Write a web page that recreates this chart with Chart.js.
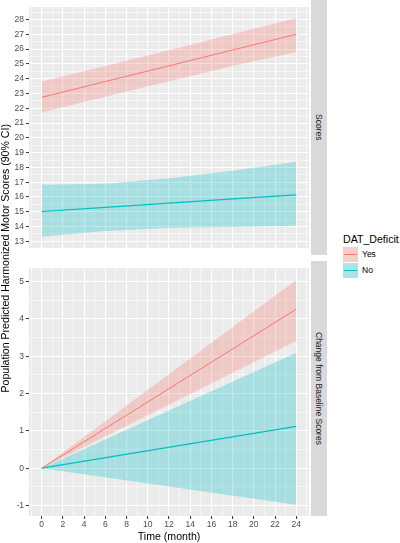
<!DOCTYPE html>
<html>
<head>
<meta charset="utf-8">
<script src="https://cdn.jsdelivr.net/npm/chart.js@4.4.1/dist/chart.umd.min.js"></script>
<style>
body { margin: 0; background: #fff; font-family: "Liberation Sans", Arial, sans-serif; }
#wrap { position: relative; width: 400px; height: 543px; overflow: hidden; }
canvas { position: absolute; left: 0; }
.strip { position: absolute; left: 311px; width: 16px; background: #D9D9D9; color: #1A1A1A; font-size: 8.5px;
         display: flex; align-items: center; justify-content: center; }
.strip span { writing-mode: vertical-rl; white-space: nowrap; }
#ytitle { position: absolute; left: -1px; top: 0; width: 12px; height: 516px; display: flex; align-items: center;
          justify-content: center; font-size: 10.6px; color: #000; }
#ytitle span { writing-mode: vertical-rl; transform: rotate(180deg); white-space: nowrap; }
#legend { position: absolute; left: 343px; top: 232px; }
#legend .title { font-size: 10.6px; color: #000; height: 14px; line-height: 14px; }
#legend .item { position: relative; height: 16px; display: flex; align-items: center; }
#legend .key { position: relative; width: 15px; height: 15px; background: #F2F2F2; margin-right: 4px; }
#legend .key .fill { position: absolute; inset: 0; }
#legend .key .line { position: absolute; left: 1px; right: 1px; top: 7px; height: 1px; }
#legend .lab { font-size: 8.5px; color: #000; }
</style>
</head>
<body>
<div id="wrap">
  <canvas id="scoresChart" width="309" height="255" style="top:0"></canvas>
  <canvas id="changeChart" width="309" height="282" style="top:261px"></canvas>
  <div class="strip" style="top:0;height:255px"><span>Scores</span></div>
  <div class="strip" style="top:261px;height:255px"><span>Change from Baseline Scores</span></div>
  <div id="ytitle"><span>Population Predicted Harmonized Motor Scores (90% CI)</span></div>
  <div id="legend"></div>
</div>
<script>
// Данные: верхняя панель (баллы)
const scoreMonths = [0, 6, 12, 18, 24];
const yesScore   = [22.74, 23.81, 24.87, 25.94, 27.0];
const yesScoreLo = [21.72, 22.78, 23.83, 24.86, 25.80];
const yesScoreHi = [23.81, 24.85, 25.92, 27.00, 28.10];
const noScore    = [15.02, 15.30, 15.59, 15.87, 16.15];
const noScoreLo  = [13.32, 13.70, 13.91, 13.97, 14.06];
const noScoreHi  = [16.83, 16.90, 17.27, 17.77, 18.38];

// Данные: нижняя панель (изменение от исходного уровня)
const changeMonths = [0, 24];
const yesChange   = [0, 4.26];
const yesChangeLo = [0, 3.41];
const yesChangeHi = [0, 5.04];
const noChange    = [0, 1.12];
const noChangeLo  = [0, -0.98];
const noChangeHi  = [0, 3.09];

const groups = ['Yes', 'No'];
const xTickLabels = [0, 2, 4, 6, 8, 10, 12, 14, 16, 18, 20, 22, 24];

const yesColor = '#F8766D';
const noColor = '#00BFC4';
const yesFill = 'rgba(248,118,109,0.28)';
const noFill = 'rgba(0,191,196,0.28)';

const pts = (xs, ys) => xs.map((x, i) => ({x: x, y: ys[i]}));

function band(xs, ys, fill) {
    return {data: pts(xs, ys), borderWidth: 0, pointRadius: 0, fill: fill, backgroundColor: fill === false ? 'transparent' : fill};
}

function buildDatasets(xs, yes, yesLo, yesHi, no, noLo, noHi) {
    // порядок: линии сверху, затем лента No, затем лента Yes
    return [
        {data: pts(xs, yes), borderColor: yesColor, borderWidth: 1, pointRadius: 0, fill: false},
        {data: pts(xs, no), borderColor: noColor, borderWidth: 1.2, pointRadius: 0, fill: false},
        Object.assign(band(xs, noHi, noFill), {fill: '+1'}),
        band(xs, noLo, false),
        Object.assign(band(xs, yesHi, yesFill), {fill: '+1'}),
        band(xs, yesLo, false)
    ];
}

// фон панели
const panelBg = {
    id: 'panelBg',
    beforeDraw(chart) {
        const a = chart.chartArea;
        chart.ctx.save();
        chart.ctx.fillStyle = '#EBEBEB';
        chart.ctx.fillRect(a.left, a.top, a.right - a.left, a.bottom - a.top);
        chart.ctx.restore();
    }
};

const isMajorX = v => xTickLabels.includes(v);
const isMajorY = v => Number.isInteger(v);

function makeChart(id, datasets, yMin, yMax, showX) {
    return new Chart(document.getElementById(id), {
        type: 'line',
        data: {datasets: datasets},
        plugins: [panelBg],
        options: {
            responsive: false,
            animation: false,
            events: [],
            layout: {padding: 0},
            plugins: {legend: {display: false}, tooltip: {enabled: false}},
            elements: {line: {tension: 0}},
            scales: {
                x: {
                    type: 'linear',
                    min: -1.2,
                    max: 25.2,
                    afterFit: s => { s.height = showX ? 27 : 0; },
                    border: {display: false},
                    grid: {
                        color: '#FFFFFF',
                        lineWidth: c => isMajorX(c.tick.value) ? 1.1 : 0.55,
                        drawTicks: showX,
                        tickLength: 3,
                        tickWidth: 1,
                        tickColor: c => isMajorX(c.tick.value) ? '#333333' : 'rgba(0,0,0,0)'
                    },
                    ticks: {
                        display: showX,
                        stepSize: 1,
                        includeBounds: false,
                        autoSkip: false,
                        maxRotation: 0,
                        padding: 1,
                        color: '#4D4D4D',
                        font: {family: 'Liberation Sans', size: 8.5},
                        callback: v => isMajorX(v) ? String(v) : ''
                    },
                    title: {
                        display: showX,
                        text: 'Time (month)',
                        color: '#000',
                        padding: {top: 0, bottom: 0},
                        font: {family: 'Liberation Sans', size: 10.6}
                    }
                },
                y: {
                    min: yMin,
                    max: yMax,
                    afterFit: s => { s.width = 29; },
                    border: {display: false},
                    grid: {
                        color: '#FFFFFF',
                        lineWidth: c => isMajorY(c.tick.value) ? 1.1 : 0.55,
                        tickLength: 3,
                        tickWidth: 1,
                        tickColor: c => isMajorY(c.tick.value) ? '#333333' : 'rgba(0,0,0,0)'
                    },
                    ticks: {
                        stepSize: 0.5,
                        includeBounds: false,
                        autoSkip: false,
                        padding: 2,
                        color: '#4D4D4D',
                        font: {family: 'Liberation Sans', size: 8.5},
                        callback: v => isMajorY(v) ? String(v) : ''
                    }
                }
            }
        }
    });
}

makeChart('scoresChart',
    buildDatasets(scoreMonths, yesScore, yesScoreLo, yesScoreHi, noScore, noScoreLo, noScoreHi),
    12.56, 28.84, false);
makeChart('changeChart',
    buildDatasets(changeMonths, yesChange, yesChangeLo, yesChangeHi, noChange, noChangeLo, noChangeHi),
    -1.28, 5.36, true);

// легенда
const legend = document.getElementById('legend');
let html = '<div class="title">DAT_Deficit</div>';
groups.forEach((g, i) => {
    const line = i === 0 ? yesColor : noColor;
    const fill = i === 0 ? yesFill : noFill;
    html += '<div class="item"><div class="key"><div class="fill" style="background:' + fill + '"></div>' +
            '<div class="line" style="background:' + line + '"></div></div><span class="lab">' + g + '</span></div>';
});
legend.innerHTML = html;
</script>
</body>
</html>
